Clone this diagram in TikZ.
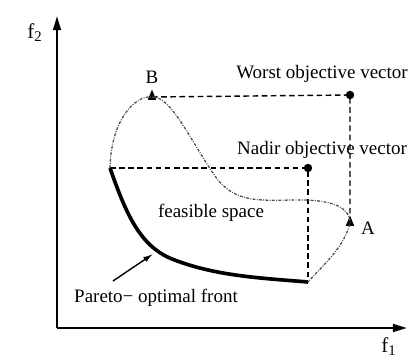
\documentclass[tikz,border=0pt]{standalone}
\usepackage{fontspec}
\setmainfont{Liberation Serif}
\usetikzlibrary{arrows.meta,shapes.geometric}

\begin{document}
\begin{tikzpicture}[
  x=0.025cm, y=-0.025cm,
  every node/.style={font=\fontsize{13.5}{16}\selectfont, inner sep=1pt},
  axislabel/.style={font=\fontsize{15}{17}\selectfont},
  axis/.style={line width=1.6pt, -{Triangle[length=10pt,width=5.5pt]}},
  guide/.style={line width=1pt, dash pattern=on 4pt off 2.5pt},
  border/.style={line width=0.9pt, black!70, dash pattern=on 2pt off 1pt on 0.6pt off 1pt},
  front/.style={line width=2.6pt},
  pointer/.style={line width=1pt, -{Latex[length=7pt,width=4pt]}},
  dot/.style={circle, fill, inner sep=0pt, minimum size=6pt},
  tri/.style={isosceles triangle, shape border rotate=90, fill, inner sep=0pt,
    minimum width=6pt, minimum height=6pt}
]
\useasboundingbox (0,0) rectangle (413,360);

% axes
\coordinate (origin) at (57,328);
\coordinate (ytop) at (57,16);
\coordinate (xend) at (407,328);
\draw[axis] (origin) -- (ytop);
\draw[axis] (origin) -- (xend);
\node[axislabel] (f2) at (35,33) {f\textsubscript{2}};
\node[axislabel] (f1) at (389,347) {f\textsubscript{1}};

% special points
\coordinate (left) at (110,168);
\coordinate (paretoend) at (308,282);
\node[tri] (B) at (152,97) {};
\node[tri] (A) at (350,223) {};
\node[dot] (worst) at (350,95) {};
\node[dot] (nadir) at (308,168) {};

% guide lines
\draw[guide] (B.center) -- (worst.center) -- (A.center);
\draw[guide] (left) -- (nadir.center) -- (paretoend);

% feasible region border
\draw[border] (left) .. controls (111,120) and (135,95) .. (B.center)
  .. controls (172,95) and (195,150) .. (218,180)
  .. controls (238,204) and (262,200) .. (300,200)
  .. controls (338,200) and (350,210) .. (A.center)
  .. controls (344,248) and (322,266) .. (paretoend);

% Pareto-optimal front
\draw[front] (left) .. controls (126,214) and (140,246) .. (172,259)
  .. controls (215,276) and (260,278) .. (paretoend);

% labels
\node (labB) at (152,77) {B};
\node (labA) at (368,228) {A};
\node (labworst) at (322,74) {Worst objective vector};
\node (labnadir) at (322,150) {Nadir objective vector};
\node (labfeas) at (211,213) {feasible space};
\node (labfront) at (156,298) {Pareto− optimal front};
\coordinate (tail) at (113,281);
\coordinate (head) at (153,254);
\draw[pointer] (tail) -- (head);

\end{tikzpicture}
\end{document}
